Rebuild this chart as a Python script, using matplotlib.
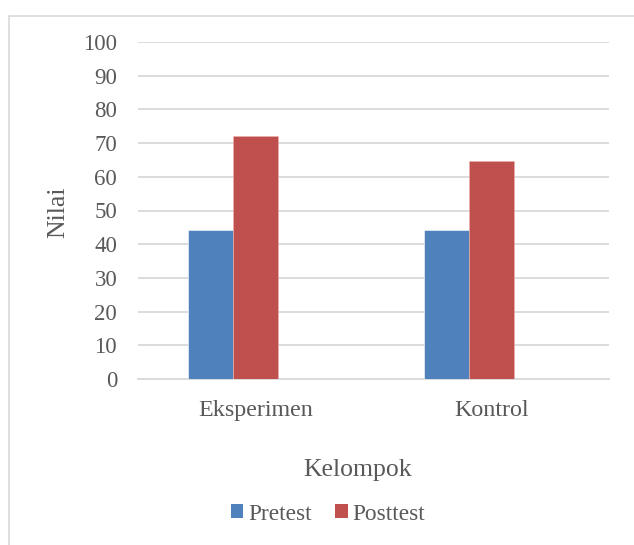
import matplotlib
matplotlib.use("Agg")
import matplotlib.pyplot as plt
from matplotlib.patches import Rectangle, Patch
import numpy as np

categories = ["Eksperimen", "Kontrol"]
pretest = [44.1, 44.3]
posttest = [72.1, 64.8]
series_names = ["Pretest", "Posttest"]
y_ticks = [0, 10, 20, 30, 40, 50, 60, 70, 80, 90, 100]

W, H = 634, 545
fig = plt.figure(figsize=(W / 100, H / 100), dpi=100)
plt.rcParams["font.family"] = ["Liberation Serif", "DejaVu Serif"]
text_color = "#595959"
grid_color = "#D9D9D9"
blue = "#4F81BD"
red = "#C0504D"

# chart border
fig.patches.append(Rectangle((9 / W, -0.01), 1.0, (H - 16) / H + 0.01,
                             transform=fig.transFigure, fill=False,
                             edgecolor=grid_color, linewidth=1.2))

ax = fig.add_axes([138 / W, (H - 379) / H, 471 / W, 337 / H])
x = np.arange(len(categories))
bw = 0.191
ax.bar(x - bw, pretest, bw, color=blue, edgecolor="#FFFFFF", linewidth=0.4, zorder=3)
ax.bar(x, posttest, bw, color=red, edgecolor="#E8B0AE", linewidth=0.4, zorder=3)

ax.set_xlim(-0.5, 1.5)
ax.set_ylim(0, 100)
ax.set_yticks(y_ticks)
ax.set_xticks(x)
ax.set_xticklabels(categories)
ax.tick_params(axis="y", length=0, pad=15, labelsize=16.5, labelcolor=text_color)
ax.tick_params(axis="x", length=0, pad=15, labelsize=17.3, labelcolor=text_color)
ax.yaxis.grid(True, color=grid_color, linewidth=1.3, zorder=0)
ax.set_axisbelow(True)
for side in ["top", "right", "left"]:
    ax.spines[side].set_visible(False)
ax.spines["bottom"].set_color(grid_color)
ax.spines["bottom"].set_linewidth(1.3)

fig.text(58 / W, 1 - 212 / H, "Nilai", rotation=90, ha="center", va="center",
         fontsize=18.5, color=text_color)
fig.text(358 / W, 1 - 470 / H, "Kelompok", ha="center", va="center",
         fontsize=18.5, color=text_color)

handles = [Patch(facecolor=blue), Patch(facecolor=red)]
fig.legend(handles, series_names, loc="center", bbox_to_anchor=(328 / W, 1 - 514 / H),
           ncol=2, frameon=False, fontsize=16.8, labelcolor=text_color,
           handlelength=0.55, handleheight=0.55, handletextpad=0.2,
           columnspacing=1.0, borderpad=0)

fig.savefig("out.png", dpi=100, facecolor="white")
